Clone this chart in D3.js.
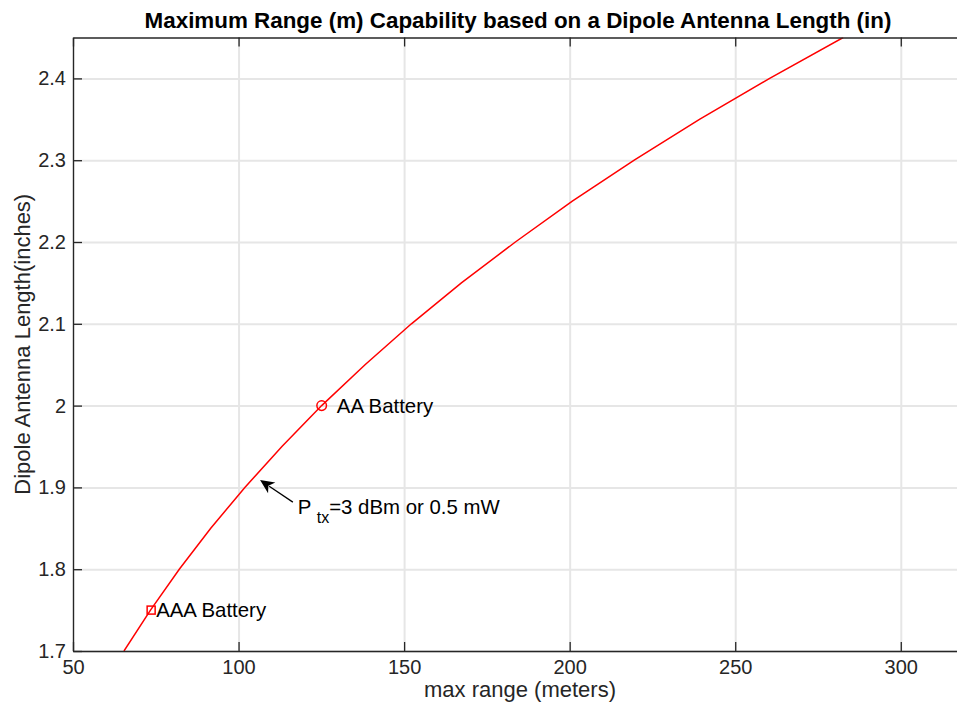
<!DOCTYPE html>
<html>
<head>
<meta charset="utf-8">
<script src="https://cdn.jsdelivr.net/npm/d3@7"></script>
<style>
  body { margin: 0; background: #fff; }
  text { font-family: "Liberation Sans", Arial, Helvetica, sans-serif; }
</style>
</head>
<body>
<svg id="chart" width="957" height="703"></svg>
<script>
// antenna length (in) vs max range (m)
const lengthIn = [1.70, 1.75, 1.80, 1.85, 1.90, 1.95, 2.00, 2.05, 2.10, 2.15, 2.20, 2.25, 2.30, 2.35, 2.40, 2.45];
const rangeM   = [65.4, 73.4, 82.1, 91.6, 101.9, 113.1, 125.1, 138.2, 152.2, 167.3, 183.6, 200.8, 219.5, 239.2, 260.4, 282.6];

const xTicks = [50, 100, 150, 200, 250, 300];
const yTicks = [1.7, 1.8, 1.9, 2.0, 2.1, 2.2, 2.3, 2.4];

const batteries = [
    { label: "  AA Battery", range: 125.1, length: 2.00, shape: "circle" },
    { label: "AAA Battery", range: 73.6, length: 1.75, shape: "square" }
];

// arrow: tail -> tip, in data units
const arrowTail = { range: 116.4, length: 1.882 };
const arrowTip  = { range: 106.5, length: 1.909 };

const svg = d3.select("#chart");
const mLeft = 73, mTop = 37.5, mRight = 967, mBottom = 651;
const w = mRight - mLeft, h = mBottom - mTop;

const x = d3.scaleLinear().domain([50, 320]).range([mLeft, mRight]);
const y = d3.scaleLinear().domain([1.7, 2.45]).range([mBottom, mTop]);

svg.append("defs").append("clipPath").attr("id", "plot")
    .append("rect").attr("x", mLeft).attr("y", mTop).attr("width", w).attr("height", h);

// grid
svg.append("g")
    .attr("transform", `translate(0,${mBottom})`)
    .call(d3.axisBottom(x).tickValues(xTicks).tickSize(-h).tickFormat(""))
    .call(g => g.select(".domain").remove())
    .call(g => g.selectAll("line").attr("stroke", "#e6e6e6").attr("stroke-width", 2));
svg.append("g")
    .attr("transform", `translate(${mLeft},0)`)
    .call(d3.axisLeft(y).tickValues(yTicks).tickSize(-w).tickFormat(""))
    .call(g => g.select(".domain").remove())
    .call(g => g.selectAll("line").attr("stroke", "#e6e6e6").attr("stroke-width", 2));

// curve
const pts = lengthIn.map((l, i) => ({ length: l, range: rangeM[i] }));
svg.append("path")
    .datum(pts)
    .attr("clip-path", "url(#plot)")
    .attr("fill", "none")
    .attr("stroke", "#ff0000")
    .attr("stroke-width", 1.5)
    .attr("d", d3.line().x(d => x(d.range)).y(d => y(d.length)));

// battery markers
svg.selectAll("circle.bat")
    .data(batteries.filter(d => d.shape === "circle"))
    .join("circle")
    .attr("class", "bat")
    .attr("cx", d => x(d.range))
    .attr("cy", d => y(d.length))
    .attr("r", 4.8)
    .attr("fill", "none")
    .attr("stroke", "#ff0000")
    .attr("stroke-width", 1.5);
svg.selectAll("rect.bat")
    .data(batteries.filter(d => d.shape === "square"))
    .join("rect")
    .attr("class", "bat")
    .attr("x", d => x(d.range) - 4)
    .attr("y", d => y(d.length) - 4)
    .attr("width", 8)
    .attr("height", 8)
    .attr("fill", "none")
    .attr("stroke", "#ff0000")
    .attr("stroke-width", 1.5);
svg.selectAll("text.bat")
    .data(batteries)
    .join("text")
    .attr("class", "bat")
    .attr("x", d => x(d.range) + 5)
    .attr("y", d => y(d.length))
    .attr("dy", "0.35em")
    .style("white-space", "pre")
    .attr("font-size", 20.4)
    .attr("fill", "#000")
    .text(d => d.label);

// arrow annotation
const tx0 = x(arrowTail.range), ty0 = y(arrowTail.length);
const tx1 = x(arrowTip.range), ty1 = y(arrowTip.length);
const ang = Math.atan2(ty1 - ty0, tx1 - tx0);
const headLen = 14, headW = 6.5;
const bx = tx1 - headLen * Math.cos(ang), by = ty1 - headLen * Math.sin(ang);
const nx = -Math.sin(ang), ny = Math.cos(ang);
svg.append("line")
    .attr("x1", tx0).attr("y1", ty0)
    .attr("x2", bx + 3 * Math.cos(ang)).attr("y2", by + 3 * Math.sin(ang))
    .attr("stroke", "#000").attr("stroke-width", 1.3);
svg.append("path")
    .attr("d", `M${tx1},${ty1} L${bx + headW * nx},${by + headW * ny} L${bx + 4 * Math.cos(ang)},${by + 4 * Math.sin(ang)} L${bx - headW * nx},${by - headW * ny} Z`)
    .attr("fill", "#000");

const ann = svg.append("text")
    .attr("x", tx0 + 5)
    .attr("y", ty0 + 12)
    .attr("font-size", 20.4)
    .attr("fill", "#000")
    .style("white-space", "pre");
ann.append("tspan").text("P ");
ann.append("tspan").attr("font-size", 16).attr("dy", 9).text("tx");
ann.append("tspan").attr("dy", -9).text("=3 dBm or 0.5 mW");

// axes (ticks point inward)
const axisColor = "#262626";
function styleAxis(g) {
    g.select(".domain").attr("stroke", axisColor).attr("stroke-width", 1.3);
    g.selectAll(".tick line").attr("stroke", axisColor).attr("stroke-width", 1.3);
    g.selectAll(".tick text").attr("fill", axisColor).attr("font-size", 20)
        .attr("font-family", "Liberation Sans, Arial, sans-serif");
}
svg.append("g")
    .attr("transform", `translate(0,${mBottom})`)
    .call(d3.axisBottom(x).tickValues(xTicks).tickSize(-9).tickSizeOuter(0).tickPadding(9))
    .call(styleAxis);
svg.append("g")
    .attr("transform", `translate(0,${mTop})`)
    .call(d3.axisTop(x).tickValues(xTicks).tickSize(-9).tickSizeOuter(0).tickFormat(""))
    .call(styleAxis);
svg.append("g")
    .attr("transform", `translate(${mLeft},0)`)
    .call(d3.axisLeft(y).tickValues(yTicks).tickSize(-9).tickSizeOuter(0).tickPadding(7).tickFormat(d3.format("~g")))
    .call(styleAxis);

// labels
svg.append("text")
    .attr("x", (mLeft + mRight) / 2 - 2)
    .attr("y", 28)
    .attr("text-anchor", "middle")
    .attr("font-size", 22.4)
    .attr("font-weight", "bold")
    .attr("fill", "#000")
    .text("Maximum Range (m) Capability based on a Dipole Antenna Length (in)");
svg.append("text")
    .attr("x", (mLeft + mRight) / 2)
    .attr("y", 697)
    .attr("text-anchor", "middle")
    .attr("font-size", 22)
    .attr("fill", axisColor)
    .text("max range (meters)");
svg.append("text")
    .attr("transform", `translate(30,${(mTop + mBottom) / 2}) rotate(-90)`)
    .attr("text-anchor", "middle")
    .attr("font-size", 22)
    .attr("fill", axisColor)
    .text("Dipole Antenna Length(inches)");
</script>
</body>
</html>
